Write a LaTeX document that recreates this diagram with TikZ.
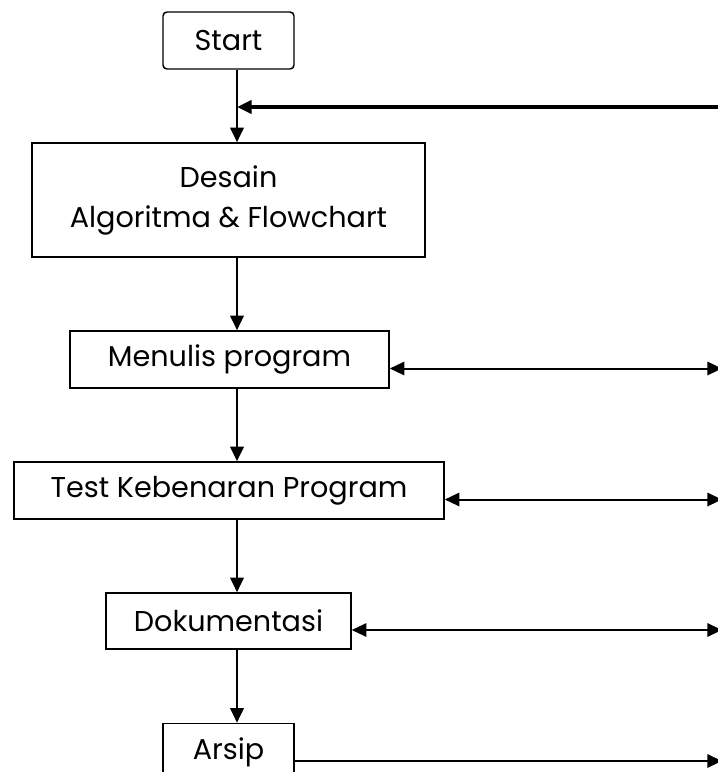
\documentclass[tikz,border=0pt]{standalone}
\usepackage{fontspec}
\setmainfont{Poppins}
\usetikzlibrary{arrows.meta,positioning}
\tikzset{%
	startstop/.style = {draw, rectangle, rounded corners=3pt, line width=1.1pt, minimum width=98.25pt, minimum height=42.75pt, text centered, inner sep=0pt},
	process/.style   = {draw, rectangle, line width=1.1pt, minimum height=42.75pt, text centered, inner sep=0pt},
	arrow/.style     = {line width=2pt, -{Triangle[length=11pt,width=10pt]}},
	sidearrow/.style = {line width=1.5pt, {Triangle[length=11pt,width=10pt]}-{Triangle[length=11pt,width=10pt]}},
}

\begin{document}
\begin{tikzpicture}[x=0.75pt,y=-0.75pt,font=\fontsize{21.5}{30}\selectfont]
	\path[use as bounding box,clip] (0,0) rectangle (718,772);
	\node[startstop] (start) at (228.5,40.5) {Start};
	\node[process, minimum width=294.75pt, minimum height=85.5pt, align=center] (desain) at (228.5,200) {Desain\\Algoritma \& Flowchart};
	\node[process, minimum width=239.25pt] (menulis) at (229.5,359.5) {Menulis program};
	\node[process, minimum width=322.5pt] (test) at (229,490.5) {Test Kebenaran Program};
	\node[process, minimum width=183.75pt, minimum height=42pt] (doku) at (228.5,621) {Dokumentasi};
	\node[process, minimum width=98.25pt] (arsip) at (228.5,752) {Arsip};
	\coordinate (spine) at (237,107);
	\coordinate (edge) at (722,107);
	% alur utama
	\draw[line width=2pt] (start.south -| spine) -- (spine);
	\draw[arrow] (spine) -- (desain.north -| spine);
	\draw[arrow, line width=2.5pt] (edge) -- (spine);
	\draw[arrow] (desain.south -| spine) -- (menulis.north -| spine);
	\draw[arrow] (menulis.south -| spine) -- (test.north -| spine);
	\draw[arrow] (test.south -| spine) -- (doku.north -| spine);
	\draw[arrow] (doku.south -| spine) -- (arsip.north -| spine);
	% ke kanan
	\draw[sidearrow] ([yshift=-6.75pt]menulis.east) -- ([yshift=-6.75pt]menulis.east -| edge);
	\draw[sidearrow] ([yshift=-6.75pt]test.east) -- ([yshift=-6.75pt]test.east -| edge);
	\draw[sidearrow] ([yshift=-6.75pt]doku.east) -- ([yshift=-6.75pt]doku.east -| edge);
	\draw[arrow, line width=1.5pt] ([yshift=-6.75pt]arsip.east) -- ([yshift=-6.75pt]arsip.east -| edge);
\end{tikzpicture}
\end{document}
